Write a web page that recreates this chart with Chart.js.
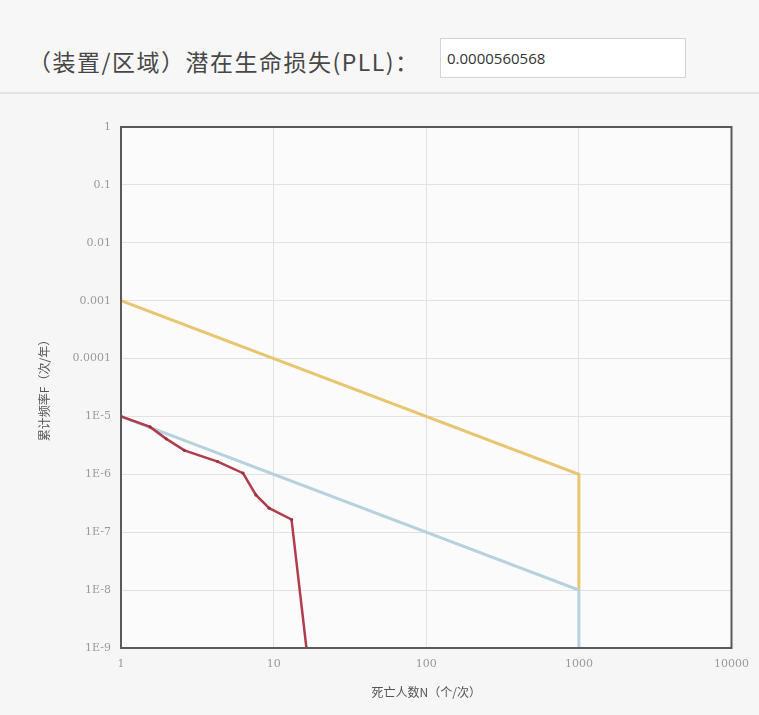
<!DOCTYPE html>
<html>
<head>
<meta charset="utf-8">
<script src="https://cdn.jsdelivr.net/npm/chart.js@4"></script>
<style>
  html, body { margin: 0; padding: 0; background: #f6f6f6; }
  body { width: 759px; height: 715px; position: relative; overflow: hidden;
         font-family: "Noto Sans CJK SC", "Noto Sans", sans-serif; }
  .head { position: absolute; left: 0; top: 0; width: 759px; height: 92px; background: #f7f7f7;
          border-bottom: 2px solid #e2e2e2; }
  .head .label { position: absolute; left: 28px; top: 42px; font-size: 23px; color: #474747;
                 line-height: 38px; letter-spacing: 1.5px; white-space: nowrap; }
  .head .box { position: absolute; left: 440px; top: 38px; width: 246px; height: 40px; background: #fff;
               border: 1px solid #d4d4d4; box-sizing: border-box; font-family: "Open Sans", "Noto Sans", sans-serif;
               font-size: 15px; color: #333; line-height: 38px; padding-left: 6px; }
  #wrap { position: absolute; left: 0; top: 95px; width: 759px; height: 620px; }
</style>
</head>
<body>
<div class="head">
  <div class="label">（装置/区域）潜在生命损失(PLL)：</div>
  <div class="box" id="pll"></div>
</div>
<div id="wrap"><canvas id="c"></canvas></div>
<script>
// PLL value shown in the header field
const pllValue = "0.0000560568";

// axis decades
const xTicks = [1, 10, 100, 1000, 10000];
const yTicks = [1, 0.1, 0.01, 0.001, 0.0001, 1e-5, 1e-6, 1e-7, 1e-8, 1e-9];
const yTickLabels = ["1", "0.1", "0.01", "0.001", "0.0001", "1E-5", "1E-6", "1E-7", "1E-8", "1E-9"];

// upper (unacceptable) criterion line
const upperN = [1, 1000, 1000];
const upperF = [1e-3, 1e-6, 1e-8];

// lower (negligible) criterion line
const lowerN = [1, 1000, 1000];
const lowerF = [1e-5, 1e-8, 1e-9];

// computed F-N curve
const curveN = [1, 1.55, 1.98, 2.6, 4.3, 6.3, 7.65, 9.35, 13.1, 16.4];
const curveF = [1e-5, 6.6e-6, 4.1e-6, 2.6e-6, 1.66e-6, 1.05e-6, 4.4e-7, 2.6e-7, 1.66e-7, 1e-9];

document.getElementById('pll').textContent = pllValue;

const pts = (xs, ys) => xs.map((x, i) => ({ x: x, y: ys[i] }));

// plot-area fill and frame
const framePlugin = {
  id: 'frame',
  beforeDraw(chart) {
    const a = chart.chartArea, ctx = chart.ctx;
    ctx.save();
    ctx.fillStyle = '#fbfbfb';
    ctx.fillRect(a.left, a.top, a.right - a.left, a.bottom - a.top);
    ctx.restore();
  },
  afterDraw(chart) {
    const a = chart.chartArea, ctx = chart.ctx;
    ctx.save();
    ctx.strokeStyle = '#5a5a5a';
    ctx.lineWidth = 2;
    ctx.strokeRect(a.left, a.top, a.right - a.left, a.bottom - a.top);
    ctx.restore();
  }
};

const tickFont = { family: '"DejaVu Serif", "Liberation Serif", serif', size: 11 };

new Chart(document.getElementById('c'), {
  type: 'scatter',
  data: {
    datasets: [
      { data: pts(upperN, upperF), showLine: true, borderColor: '#e8c671', borderWidth: 3,
        pointRadius: 0, tension: 0, order: 2 },
      { data: pts(lowerN, lowerF), showLine: true, borderColor: '#b7d1df', borderWidth: 3,
        pointRadius: 0, tension: 0, order: 1 },
      { data: pts(curveN, curveF), showLine: true, borderColor: '#b03c4c', borderWidth: 2.5,
        pointRadius: 1.6, pointBackgroundColor: '#9c3040', pointBorderWidth: 0, tension: 0, order: 0 }
    ]
  },
  options: {
    responsive: true,
    maintainAspectRatio: false,
    animation: false,
    layout: { padding: { top: 32, right: 24, left: 0, bottom: 0 } },
    plugins: { legend: { display: false }, tooltip: { enabled: false } },
    scales: {
      x: {
        type: 'logarithmic', min: 1, max: 10000,
        afterBuildTicks: s => { s.ticks = xTicks.map(v => ({ value: v })); },
        afterFit: s => { s.height = 67; },
        ticks: { color: '#9a9a9a', font: tickFont, padding: 10, maxRotation: 0,
                 callback: v => String(v) },
        grid: { color: '#e2e2e2', drawTicks: false },
        border: { color: '#5a5a5a', width: 2 },
        title: { display: true, text: '死亡人数N（个/次）', color: '#555',
                 font: { family: '"Noto Sans CJK SC", sans-serif', size: 12 }, padding: { top: 4, bottom: 15 } }
      },
      y: {
        type: 'logarithmic', min: 1e-9, max: 1,
        afterBuildTicks: s => { s.ticks = yTicks.map(v => ({ value: v })); },
        afterFit: s => { s.width = 121; },
        ticks: { color: '#9a9a9a', font: tickFont, padding: 10,
                 callback: v => yTickLabels[yTicks.findIndex(t => Math.abs(Math.log10(t) - Math.log10(v)) < 1e-6)] },
        grid: { color: '#e2e2e2', drawTicks: false },
        border: { color: '#5a5a5a', width: 2 },
        title: { display: true, text: '累计频率F（次/年）', color: '#555',
                 font: { family: '"Noto Sans CJK SC", sans-serif', size: 12 }, padding: { top: 37, bottom: 0 } }
      }
    }
  },
  plugins: [framePlugin]
});
</script>
</body>
</html>
